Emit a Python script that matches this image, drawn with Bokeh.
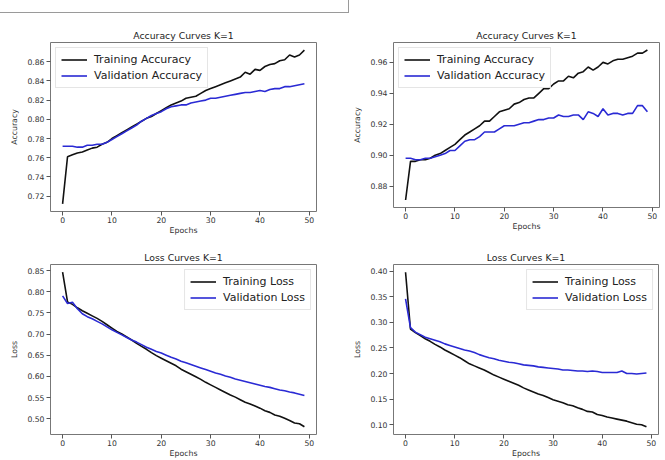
from bokeh.plotting import figure
from bokeh.models import Range1d, FixedTicker, NumeralTickFormatter, Div
from bokeh.layouts import column, row
from bokeh.embed import file_html
from bokeh.resources import INLINE

epochs = list(range(50))

# Top-left: Accuracy (model A)
acc_a_train = [0.712, 0.761, 0.763, 0.765, 0.766, 0.768, 0.770, 0.771, 0.774, 0.776,
               0.780, 0.783, 0.786, 0.789, 0.792, 0.795, 0.798, 0.801, 0.803, 0.806,
               0.809, 0.812, 0.815, 0.817, 0.819, 0.822, 0.823, 0.824, 0.827, 0.830,
               0.832, 0.834, 0.836, 0.838, 0.840, 0.842, 0.844, 0.849, 0.847, 0.852,
               0.851, 0.855, 0.857, 0.858, 0.861, 0.862, 0.867, 0.865, 0.867, 0.872]
acc_a_val = [0.772, 0.772, 0.772, 0.771, 0.771, 0.773, 0.773, 0.774, 0.774, 0.776,
             0.779, 0.782, 0.785, 0.788, 0.791, 0.794, 0.798, 0.801, 0.804, 0.806,
             0.808, 0.811, 0.813, 0.814, 0.815, 0.815, 0.817, 0.818, 0.819, 0.820,
             0.822, 0.822, 0.823, 0.824, 0.825, 0.826, 0.827, 0.828, 0.828, 0.829,
             0.830, 0.829, 0.831, 0.832, 0.832, 0.834, 0.834, 0.835, 0.836, 0.837]

# Top-right: Accuracy (model B)
acc_b_train = [0.871, 0.896, 0.896, 0.897, 0.897, 0.898, 0.900, 0.901, 0.903, 0.905,
               0.907, 0.910, 0.913, 0.915, 0.917, 0.919, 0.922, 0.922, 0.925, 0.928,
               0.929, 0.930, 0.933, 0.934, 0.936, 0.937, 0.937, 0.940, 0.943, 0.943,
               0.946, 0.948, 0.948, 0.951, 0.950, 0.953, 0.954, 0.957, 0.955, 0.957,
               0.960, 0.959, 0.961, 0.962, 0.962, 0.963, 0.964, 0.966, 0.966, 0.968]
acc_b_val = [0.898, 0.898, 0.897, 0.897, 0.898, 0.898, 0.899, 0.900, 0.901, 0.903,
             0.903, 0.906, 0.909, 0.910, 0.910, 0.912, 0.915, 0.915, 0.915, 0.917,
             0.919, 0.919, 0.919, 0.920, 0.921, 0.921, 0.922, 0.923, 0.923, 0.924,
             0.924, 0.926, 0.925, 0.925, 0.926, 0.926, 0.923, 0.928, 0.927, 0.925,
             0.930, 0.926, 0.927, 0.927, 0.926, 0.927, 0.927, 0.932, 0.932, 0.928]

# Bottom-left: Loss (model A)
loss_a_train = [0.846, 0.776, 0.770, 0.762, 0.755, 0.749, 0.743, 0.737, 0.730, 0.722,
                0.714, 0.706, 0.700, 0.693, 0.686, 0.678, 0.671, 0.664, 0.656, 0.649,
                0.643, 0.637, 0.631, 0.625, 0.617, 0.611, 0.605, 0.599, 0.593, 0.586,
                0.580, 0.574, 0.568, 0.562, 0.556, 0.551, 0.545, 0.539, 0.535, 0.530,
                0.525, 0.519, 0.515, 0.509, 0.506, 0.501, 0.496, 0.490, 0.488, 0.481]
loss_a_val = [0.790, 0.772, 0.775, 0.760, 0.748, 0.741, 0.736, 0.730, 0.724, 0.717,
              0.710, 0.704, 0.698, 0.692, 0.686, 0.681, 0.675, 0.669, 0.664, 0.659,
              0.655, 0.650, 0.645, 0.641, 0.636, 0.632, 0.628, 0.624, 0.620, 0.616,
              0.612, 0.608, 0.605, 0.601, 0.598, 0.594, 0.591, 0.588, 0.585, 0.582,
              0.579, 0.576, 0.574, 0.571, 0.568, 0.566, 0.563, 0.561, 0.558, 0.555]

# Bottom-right: Loss (model B)
loss_b_train = [0.398, 0.287, 0.280, 0.274, 0.268, 0.263, 0.257, 0.252, 0.246, 0.241,
                0.236, 0.231, 0.225, 0.219, 0.215, 0.211, 0.207, 0.202, 0.197, 0.193,
                0.189, 0.185, 0.181, 0.177, 0.172, 0.168, 0.164, 0.160, 0.157, 0.153,
                0.149, 0.146, 0.143, 0.139, 0.137, 0.133, 0.130, 0.126, 0.125, 0.120,
                0.118, 0.115, 0.113, 0.111, 0.109, 0.107, 0.104, 0.101, 0.100, 0.096]
loss_b_val = [0.346, 0.290, 0.281, 0.276, 0.271, 0.268, 0.265, 0.262, 0.258, 0.255,
              0.252, 0.249, 0.246, 0.244, 0.241, 0.237, 0.234, 0.231, 0.229, 0.226,
              0.224, 0.222, 0.221, 0.219, 0.217, 0.216, 0.215, 0.213, 0.212, 0.211,
              0.210, 0.209, 0.207, 0.207, 0.206, 0.205, 0.205, 0.204, 0.205, 0.204,
              0.202, 0.202, 0.202, 0.202, 0.205, 0.200, 0.200, 0.199, 0.200, 0.201]

x_ticks = [0, 10, 20, 30, 40, 50]
acc_a_ticks = [0.72, 0.74, 0.76, 0.78, 0.80, 0.82, 0.84, 0.86]
acc_b_ticks = [0.88, 0.90, 0.92, 0.94, 0.96]
loss_a_ticks = [0.50, 0.55, 0.60, 0.65, 0.70, 0.75, 0.80, 0.85]
loss_b_ticks = [0.10, 0.15, 0.20, 0.25, 0.30, 0.35, 0.40]

titles = ["Accuracy Curves K=1", "Accuracy Curves K=1", "Loss Curves K=1", "Loss Curves K=1"]

FONT = "DejaVu Sans"
TRAIN_COLOR = "#111111"
VAL_COLOR = "#2a2ad4"


def padded(lo, hi, frac=0.05):
    span = hi - lo
    return lo - span * frac, hi + span * frac


def panel(title, ylabel, train, val, train_label, val_label, yticks,
          width, height, b_left, b_right, b_top, b_bottom, loc):
    ylo, yhi = padded(min(min(train), min(val)), max(max(train), max(val)))
    xlo, xhi = padded(min(epochs), max(epochs))
    p = figure(width=width, height=height, output_backend="svg", toolbar_location=None,
               x_range=Range1d(xlo, xhi), y_range=Range1d(ylo, yhi),
               min_border_left=b_left, min_border_right=b_right,
               min_border_top=b_top, min_border_bottom=b_bottom,
               title=title, align="start")
    p.line(epochs, train, line_color=TRAIN_COLOR, line_width=1.6, legend_label=train_label)
    p.line(epochs, val, line_color=VAL_COLOR, line_width=1.6, legend_label=val_label)

    p.title.text_font = FONT
    p.title.text_font_size = "9.3px"
    p.title.text_font_style = "normal"
    p.title.text_color = "#222222"
    p.title.align = "center"
    p.title.standoff = 4

    p.xgrid.visible = False
    p.ygrid.visible = False
    p.outline_line_color = "#777777"
    p.outline_line_width = 1
    p.background_fill_color = "white"
    p.border_fill_color = "white"

    p.xaxis.axis_label = "Epochs"
    p.yaxis.axis_label = ylabel
    p.xaxis.ticker = FixedTicker(ticks=x_ticks)
    p.yaxis.ticker = FixedTicker(ticks=yticks)
    p.yaxis.formatter = NumeralTickFormatter(format="0.00")
    for ax in (p.xaxis[0], p.yaxis[0]):
        ax.axis_line_color = None
        ax.major_tick_in = 0
        ax.major_tick_out = 4
        ax.minor_tick_in = 0
        ax.minor_tick_out = 0
        ax.major_tick_line_color = "#555555"
        ax.major_label_text_font = FONT
        ax.major_label_text_font_size = "7.7px"
        ax.major_label_text_color = "#333333"
        ax.major_label_standoff = 2
        ax.axis_label_text_font = FONT
        ax.axis_label_text_font_size = "7.8px"
        ax.axis_label_text_font_style = "normal"
        ax.axis_label_text_color = "#333333"
    p.xaxis.major_label_standoff = 1
    p.xaxis.axis_label_standoff = 0
    p.yaxis.axis_label_standoff = 5

    lg = p.legend[0]
    lg.location = loc
    lg.label_text_font = FONT
    lg.label_text_font_size = "11px"
    lg.label_text_color = "#222222"
    lg.glyph_width = 26
    lg.glyph_height = 13
    lg.label_height = 13
    lg.label_standoff = 7
    lg.spacing = 3
    lg.padding = 5
    lg.margin = 5
    lg.border_line_color = "#cccccc"
    lg.background_fill_alpha = 0.85
    return p


p1 = panel(titles[0], "Accuracy", acc_a_train, acc_a_val, "Training Accuracy", "Validation Accuracy",
           acc_a_ticks, 330, 233, 50, 14, 28, 34, "top_left")
p2 = panel(titles[1], "Accuracy", acc_b_train, acc_b_val, "Training Accuracy", "Validation Accuracy",
           acc_b_ticks, 335, 229, 63, 6, 19, 36, "top_left")
p3 = panel(titles[2], "Loss", loss_a_train, loss_a_val, "Training Loss", "Validation Loss",
           loss_a_ticks, 330, 213, 50, 14, 16, 26, "top_right")
p4 = panel(titles[3], "Loss", loss_b_train, loss_b_val, "Training Loss", "Validation Loss",
           loss_b_ticks, 335, 213, 63, 7, 16, 26, "top_right")

header = Div(text='<div style="width:349px;height:13px;border-bottom:1px solid #9a9a9a;'
                  'border-right:1px solid #9a9a9a;"></div>',
             width=665, height=14, margin=0)

layout = column(header, row(p1, p2, spacing=0), row(p3, p4, spacing=0), spacing=0)

open("out.html", "w").write(file_html(layout, INLINE))
